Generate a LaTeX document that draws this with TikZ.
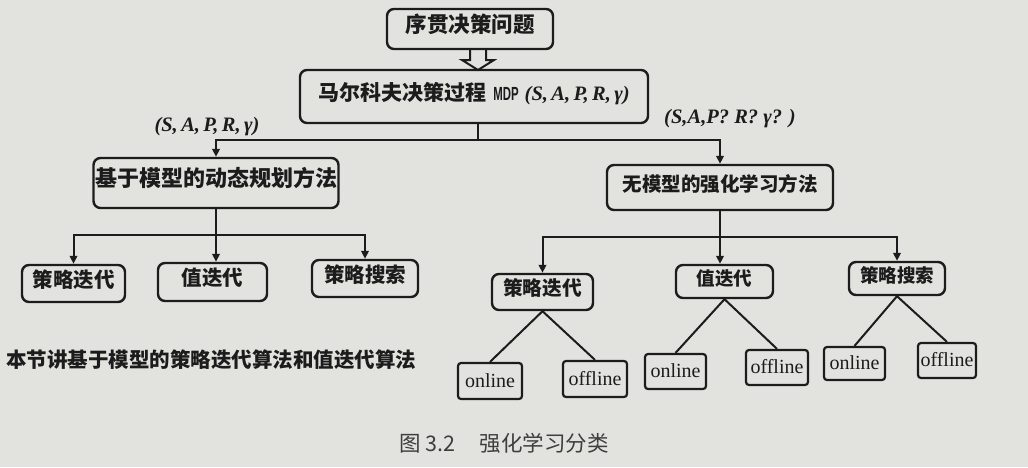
\documentclass[tikz,border=0pt]{standalone}
\usepackage{fontspec}
\setmainfont{Liberation Serif}
\newfontfamily\cjk{Noto Sans CJK SC}
\newfontfamily\sansf{Liberation Sans}
\usetikzlibrary{arrows.meta,calc}
\definecolor{paper}{RGB}{226,226,223}
\definecolor{ink}{RGB}{28,28,28}
\newcommand\tupfont{\rmfamily\fontsize{20.5}{20.5}\selectfont\bfseries\itshape}
\tikzset{
  cbox/.style={draw=ink, text=ink, line width=2.4pt, rounded corners=7pt, inner sep=0pt,
               text height=0.84em, text depth=0.14em},
  fs/.style={font=\cjk\bfseries\fontsize{#1}{#1}\selectfont},
  leafbox/.style={draw=ink, text=ink, line width=2.2pt, rounded corners=3pt, inner sep=0pt,
               font=\fontsize{20}{20}\selectfont, text height=14pt, text depth=2pt},
  link/.style={draw=ink, line width=2pt, line join=miter},
  arr/.style={link, -{Triangle[length=8pt,width=7.5pt]}},
  lab/.style={text=ink, inner sep=0pt, font=\tupfont},
}
\begin{document}
\begin{tikzpicture}[x=1pt,y=-1pt]
\fill[paper] (0,0) rectangle (1028,467);
\useasboundingbox (0,0) rectangle (1028,467);

% top level
\node[cbox, fs=21.5, minimum width=166pt, minimum height=40pt] (top) at (470,29) {序贯决策问题};
\node[cbox, fs=21, minimum width=348pt, minimum height=53pt] (mdp) at (474,96.5)
  {马尔科夫决策过程\hspace{7pt}\scalebox{0.6}[1]{\sansf\fontsize{19}{19}\selectfont MDP}\hspace{6pt}{\tupfont (S,\,A,\,P,\,R,\,γ)}};

% hollow arrow
\coordinate (ha) at (478,49);
\draw[link] (ha) ++(-8,0) -- ++(0,11) -- ++(-8,0) -- ++(16,10) -- ++(16,-10) -- ++(-8,0) -- ++(0,-11);

% second level
\node[cbox, fs=22, minimum width=245pt, minimum height=50pt] (dp) at (216,183) {基于模型的动态规划方法};
\node[cbox, fs=19.5, minimum width=226pt, minimum height=45pt] (mf) at (720,187.5) {无模型的强化学习方法};

\node[lab] (lab1) at (207,127) {(S,\,A,\,P,\,R,\,γ)};
\node[lab] (lab2) at (730,119) {(S,A,P? R? γ? )};

\coordinate (j1) at (478,140);
\draw[link] (mdp.south -| j1) -- (j1);
\draw[arr] (j1) -| (dp.north);
\draw[arr] (j1) -| (mf.north);

% left subtree
\node[cbox, fs=20.5, minimum width=103pt, minimum height=37pt] (l1) at (73.5,283.5) {策略迭代};
\node[cbox, fs=20.5, minimum width=109pt, minimum height=38pt] (l2) at (212.5,282) {值迭代};
\node[cbox, fs=20.5, minimum width=106pt, minimum height=37pt] (l3) at (365,278.5) {策略搜索};

\coordinate (j2) at (216,235);
\draw[link] (dp.south) -- (dp.south |- j2);
\draw[arr] (dp.south |- j2) -| (l1.north);
\draw[arr] (dp.south |- j2) -| (l3.north);
\draw[arr] (dp.south |- j2) -- (l2.north -| dp.south);

% right subtree
\node[cbox, fs=19.7, minimum width=101pt, minimum height=36pt] (r1) at (542.5,292) {策略迭代};
\node[cbox, fs=18.5, minimum width=97pt, minimum height=33pt] (r2) at (724.5,281.5) {值迭代};
\node[cbox, fs=18.5, minimum width=96pt, minimum height=33pt] (r3) at (897,278.5) {策略搜索};

\coordinate (j3) at (721,237);
\draw[link] (mf.south) -- (mf.south |- j3);
\draw[arr] (mf.south |- j3) -| (r1.north);
\draw[arr] (mf.south |- j3) -| (r3.north);
\draw[arr] (mf.south |- j3) -- (r2.north -| mf.south);

% leaves
\node[leafbox, minimum width=64pt, minimum height=36pt] (on1) at (490,381) {online};
\node[leafbox, minimum width=64pt, minimum height=36pt] (off1) at (595,379) {offline};
\node[leafbox, minimum width=61pt, minimum height=35pt] (on2) at (675.5,371.5) {online};
\node[leafbox, minimum width=62pt, minimum height=35pt] (off2) at (777,367.5) {offline};
\node[leafbox, minimum width=61pt, minimum height=33pt] (on3) at (854.5,363.5) {online};
\node[leafbox, minimum width=58pt, minimum height=35pt] (off3) at (947,360.5) {offline};

\draw[link] (r1.south) -- (on1.north);
\draw[link] (r1.south) -- (off1.north);
\draw[link] (r2.south) -- (on2.north);
\draw[link] (r2.south) -- (off2.north);
\draw[link] (r3.south) -- (on3.north);
\draw[link] (r3.south) -- (off3.north);

% texts
\node[text=ink, inner sep=0pt, anchor=west, font=\cjk\bfseries\fontsize{20.5}{20.5}\selectfont] (note) at (6,360) {本节讲基于模型的策略迭代算法和值迭代算法};
\node[text=ink!85, inner sep=0pt, anchor=west, font=\cjk\fontsize{21.5}{21.5}\selectfont] (cap) at (399,443) {图\hspace{5pt}3.2\hspace{24pt}强化学习分类};
\end{tikzpicture}
\end{document}
